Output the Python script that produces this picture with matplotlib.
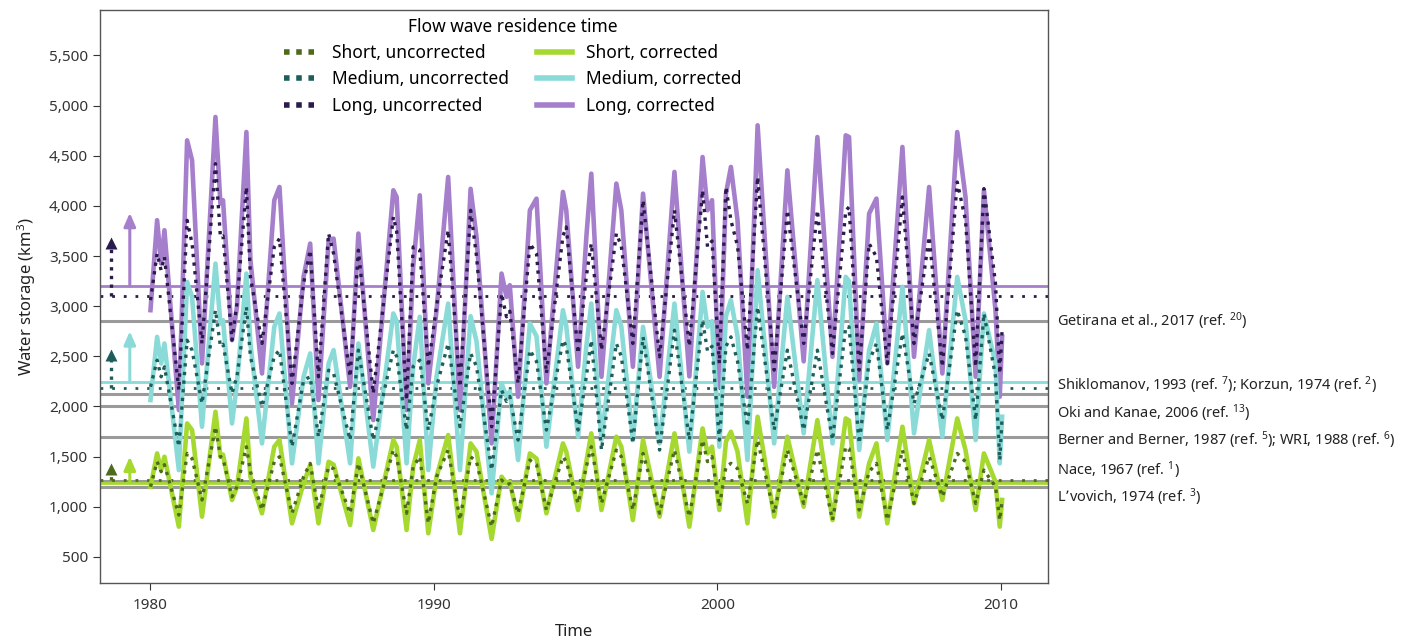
import matplotlib
matplotlib.use("Agg")
import matplotlib.pyplot as plt
from matplotlib.lines import Line2D
from matplotlib.ticker import FuncFormatter, FixedLocator
import matplotlib.transforms as mtransforms
import numpy as np

plt.rcParams['font.family'] = ['Noto Sans', 'DejaVu Sans']
plt.rcParams['mathtext.default'] = 'regular'

months = [0, 2.8, 4.5, 5.9, 12, 15.5, 17.6, 21.8, 27.5, 29.6,
          30.7, 34.5, 36.6, 40.6, 42.3, 47.2, 52.4, 54.6, 59.9, 64.8,
          67.6, 71.1, 75.4, 77.5, 84.5, 88, 94.3, 102.8, 104.2, 108.4,
          111.2, 114, 117.6, 121.1, 126, 131, 135.5, 138, 144.4, 148.6,
          150.7, 152.1, 155.6, 160.6, 163.4, 167.6, 174.6, 176, 181, 184.5,
          186.6, 190.9, 197.2, 199.3, 204.2, 208.5, 215.5, 221.8, 228.1, 233.7,
          235.8, 237.7, 240.8, 243.6, 245.7, 248.5, 252.7, 257, 264, 269.6,
          276.5, 282.3, 288.7, 294.3, 295.7, 300, 304.2, 307.3, 311.9, 318.3,
          323.2, 329.6, 335.2, 341.5, 345, 349.3, 352.8, 357.7, 359.5, 360.5]

long_cor = [2960, 3857, 3425, 3757, 1964, 4653, 4454, 2429, 4886, 4022,
            4056, 2661, 2993, 4736, 3458, 2329, 4056, 4188, 2030, 3292,
            3624, 2064, 3657, 3674, 2196, 3724, 1864, 4155, 4089, 1964,
            3392, 4105, 2230, 2960, 4288, 1964, 4170, 3690, 1632, 3325,
            3093, 3209, 2097, 3956, 4072, 2230, 4139, 3956, 2396, 3690,
            4321, 2296, 4222, 3956, 2396, 4122, 2296, 4338, 2300, 4487,
            3956, 4056, 2196, 4122, 4388, 3856, 2097, 4803, 2196, 4354,
            2450, 4686, 2495, 4703, 4686, 2263, 3923, 4072, 2429, 4587,
            2495, 4188, 2329, 4736, 4089, 2296, 4155, 2960, 2097, 2694]

med_cor = [2064, 2694, 2429, 2628, 1366, 3242, 3093, 1798, 3425, 2827,
           2860, 1831, 2230, 3325, 2628, 1632, 2794, 2927, 1433, 2296,
           2529, 1433, 2429, 2562, 1433, 2628, 1400, 2927, 2850, 1433,
           2400, 2894, 1366, 2300, 3026, 1366, 2900, 2650, 1134, 2230,
           2097, 2150, 1466, 2827, 2700, 1599, 2960, 2800, 1698, 2600,
           3026, 1665, 2960, 2800, 1665, 2794, 1632, 3026, 1550, 3143,
           2794, 2850, 1599, 2900, 3060, 2700, 1466, 3358, 1632, 3093,
           1732, 3259, 1632, 3292, 3250, 1566, 2562, 2827, 1665, 3193,
           1732, 2761, 1699, 3292, 2860, 1665, 2927, 2429, 1433, 1898]

short_cor = [1200, 1532, 1366, 1499, 802, 1831, 1765, 902, 1947, 1499,
             1520, 1068, 1200, 1881, 1300, 935, 1599, 1665, 835, 1234,
             1416, 835, 1449, 1420, 819, 1483, 769, 1665, 1600, 769,
             1400, 1665, 736, 1300, 1715, 736, 1632, 1550, 680, 1300,
             1234, 1250, 868, 1532, 1480, 935, 1632, 1550, 968, 1450,
             1732, 968, 1699, 1600, 868, 1665, 902, 1732, 802, 1781,
             1532, 1600, 968, 1650, 1748, 1550, 835, 1898, 902, 1699,
             1001, 1864, 868, 1881, 1860, 902, 1433, 1632, 835, 1798,
             1034, 1665, 1068, 1881, 1566, 968, 1532, 1250, 802, 1068]

long_unc = [3060, 3524, 3358, 3491, 2163, 3856, 3624, 2628, 4421, 3690,
            3700, 2661, 3026, 4188, 3292, 2628, 3591, 3674, 2230, 3226,
            3558, 2296, 3724, 3524, 2296, 3558, 2130, 3890, 3750, 2064,
            3591, 3558, 2396, 3000, 3757, 2196, 3956, 3500, 1798, 3126,
            2894, 2950, 2230, 3624, 3524, 2329, 3700, 3790, 2528, 3300,
            3624, 2562, 3724, 3600, 2628, 4056, 2495, 3956, 2600, 4155,
            3591, 3650, 2429, 4188, 3856, 3600, 2562, 4288, 2362, 3956,
            2628, 3956, 2528, 3950, 3989, 2362, 3624, 3491, 2429, 4089,
            2628, 3690, 2396, 4238, 3856, 2396, 4172, 3226, 2329, 2761]

med_unc = [2196, 2462, 2296, 2395, 1599, 2661, 2560, 2030, 2960, 2600,
           2620, 2130, 2300, 2993, 2495, 1997, 2500, 2562, 1599, 2263,
           2296, 1698, 2362, 2330, 1665, 2562, 1665, 2562, 2500, 1765,
           2400, 2462, 1765, 2200, 2628, 1798, 2529, 2400, 1366, 2163,
           2050, 2100, 1665, 2562, 2450, 1765, 2661, 2600, 1765, 2300,
           2661, 1566, 2628, 2500, 1632, 2694, 1566, 2761, 1665, 2860,
           2550, 2600, 1665, 2600, 2694, 2450, 1798, 2993, 1765, 2562,
           1765, 2562, 1665, 2794, 2794, 1632, 2450, 2628, 1765, 2728,
           2030, 2529, 1864, 2960, 2700, 1864, 2927, 2300, 1466, 1898]

short_unc = [1200, 1450, 1350, 1420, 918, 1532, 1480, 1068, 1798, 1500,
             1480, 1100, 1200, 1599, 1350, 968, 1450, 1499, 935, 1300,
             1433, 968, 1400, 1380, 935, 1433, 835, 1566, 1500, 935,
             1400, 1499, 835, 1300, 1566, 868, 1499, 1450, 802, 1267,
             1220, 1230, 935, 1466, 1420, 968, 1499, 1450, 1034, 1400,
             1599, 1034, 1566, 1500, 968, 1532, 935, 1566, 900, 1665,
             1450, 1500, 1001, 1400, 1433, 1380, 1034, 1665, 935, 1566,
             1034, 1566, 868, 1599, 1580, 968, 1350, 1433, 868, 1566,
             1034, 1499, 1101, 1532, 1450, 1034, 1366, 1200, 868, 1068]

# long-term means (horizontal lines) and arrow tips: short, medium, long
mean_cor = [1240, 2240, 3200]
mean_unc = [1265, 2180, 3100]
tip_cor = [1500, 2750, 3930]
tip_unc = [1430, 2560, 3680]

ref_values = [2850, 2120, 2000, 1700, 1260, 1200]
ref_labels = ["Getirana et al., 2017 (ref. $^{20}$)",
              "Shiklomanov, 1993 (ref. $^{7}$); Korzun, 1974 (ref. $^{2}$)",
              "Oki and Kanae, 2006 (ref. $^{13}$)",
              "Berner and Berner, 1987 (ref. $^{5}$); WRI, 1988 (ref. $^{6}$)",
              "Nace, 1967 (ref. $^{1}$)",
              "L\u2019vovich, 1974 (ref. $^{3}$)"]
ref_label_y = [2851, 2213, 1934, 1665, 1367, 1098]

names_unc = ["Short, uncorrected", "Medium, uncorrected", "Long, uncorrected"]
names_cor = ["Short, corrected", "Medium, corrected", "Long, corrected"]

col_cor = ["#a5d930", "#8adbd8", "#a67fcc"]   # short, medium, long
col_unc = ["#4e6b1c", "#1d5e5a", "#2b1a4c"]

t = 1980 + np.array(months) / 12.0

fig = plt.figure(figsize=(14.05, 6.4), dpi=100)
ax = fig.add_axes([0.0712, 0.089, 0.6747, 0.895])

for v in ref_values:
    ax.axhline(v, color="#9a9a9a", lw=2.2, zorder=1)

dots = (0, (1, 1.6))
for i in range(3):
    ax.axhline(mean_cor[i], color=col_cor[i], lw=2.0, zorder=2)
    ax.axhline(mean_unc[i], color=col_unc[i], lw=2.0, ls=(0, (1, 3.2)),
               zorder=2)

series_cor = [short_cor, med_cor, long_cor]
series_unc = [short_unc, med_unc, long_unc]
for i in [2, 1, 0]:
    ax.plot(t, series_cor[i], color=col_cor[i], lw=3.3, zorder=3,
            solid_joinstyle="round")
for i in [2, 1, 0]:
    ax.plot(t, series_unc[i], color=col_unc[i], lw=2.4, ls=dots,
            dash_capstyle="butt", zorder=4)

# arrows at the left
x_unc, x_cor = 1978.6, 1979.27
for i in range(3):
    ax.annotate("", xy=(x_cor, tip_cor[i]), xytext=(x_cor, mean_cor[i]),
                arrowprops=dict(arrowstyle="-|>,head_length=0.8,head_width=0.35",
                                color=col_cor[i], lw=2.2, shrinkA=0, shrinkB=0),
                zorder=5)
    ax.plot([x_unc, x_unc], [mean_unc[i], tip_unc[i] - 60], color=col_unc[i],
            lw=2.4, ls=dots, dash_capstyle="butt", zorder=5)
    ax.plot(x_unc, tip_unc[i] - 50, marker="^", ms=9, color=col_unc[i],
            mec="none", zorder=5)

ax.set_xlim(1978.22, 2011.66)
ax.set_ylim(240, 5950)
ax.xaxis.set_major_locator(FixedLocator([1980, 1990, 2000, 2010]))
ax.yaxis.set_major_locator(FixedLocator(range(500, 5501, 500)))
ax.yaxis.set_major_formatter(FuncFormatter(lambda v, p: f"{int(v):,}"))
ax.tick_params(labelsize=11, colors="#333333", length=5, width=0.8)
ax.tick_params(axis="x", pad=6)
for s in ax.spines.values():
    s.set_color("#555555")
    s.set_linewidth(1.0)
ax.set_xlabel("Time", fontsize=12, color="#222222", labelpad=8)
ax.set_ylabel("Water storage (km$^3$)", fontsize=12, color="#222222",
              labelpad=8)

trans = mtransforms.blended_transform_factory(ax.transAxes, ax.transData)
for lab, y in zip(ref_labels, ref_label_y):
    ax.text(1.0095, y, lab, transform=trans, fontsize=10.5, color="#222222",
            va="center", ha="left", clip_on=False)

handles = []
labels = []
for i in range(3):
    handles.append(Line2D([], [], color=col_unc[i], lw=4, ls=(0, (1, 1.2)),
                          dash_capstyle="butt"))
    labels.append(names_unc[i])
for i in range(3):
    handles.append(Line2D([], [], color=col_cor[i], lw=4))
    labels.append(names_cor[i])
leg = ax.legend(handles, labels, ncol=2, loc="upper center",
                bbox_to_anchor=(0.435, 1.008), frameon=False, fontsize=12.5,
                title="Flow wave residence time", title_fontsize=12.5,
                handlelength=2.0, columnspacing=1.6, labelspacing=0.48,
                handletextpad=0.8, borderpad=0.2)
leg.set_zorder(10)

fig.savefig("out.png", dpi=100)
